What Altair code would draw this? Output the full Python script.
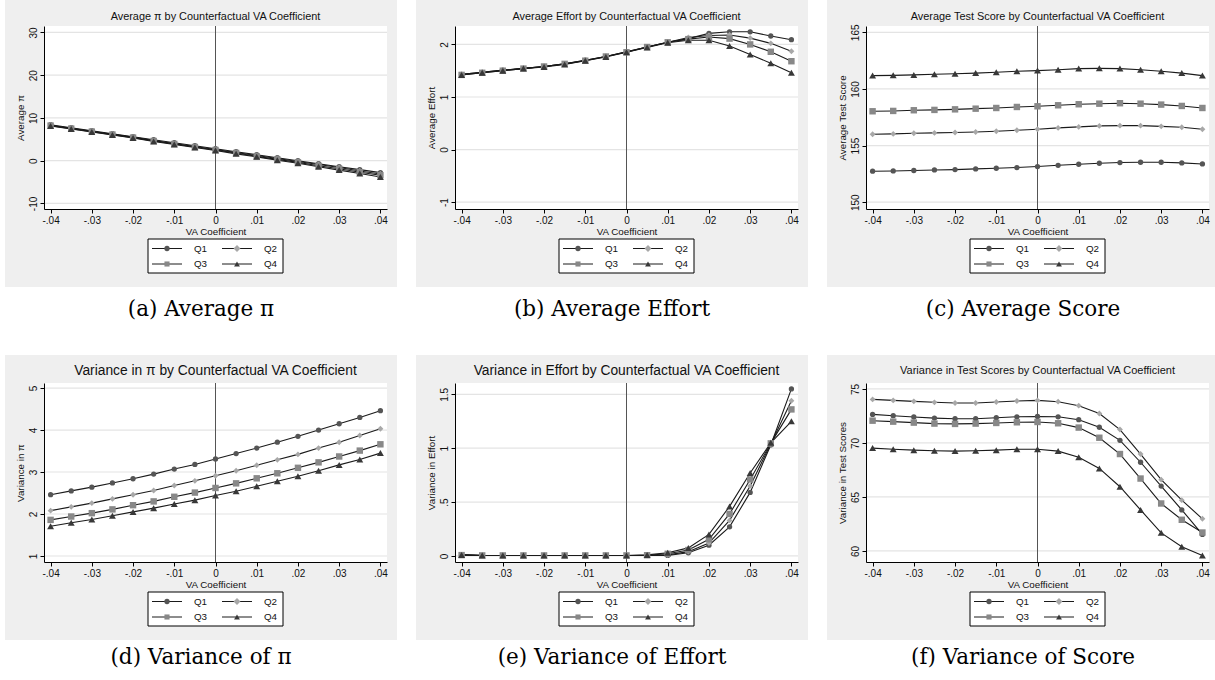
import altair as alt
import pandas as pd

# Counterfactual VA coefficients (x axis)
VA = [-0.04, -0.035, -0.03, -0.025, -0.02, -0.015, -0.01, -0.005, 0.0,
      0.005, 0.01, 0.015, 0.02, 0.025, 0.03, 0.035, 0.04]
X_TICKS = [-0.04, -0.03, -0.02, -0.01, 0.0, 0.01, 0.02, 0.03, 0.04]
QUARTILES = ["Q1", "Q2", "Q3", "Q4"]

# (a) Average pi
avg_pi_q1 = [8.4, 7.7, 7.0, 6.3, 5.6, 4.9, 4.2, 3.5, 2.8, 2.1, 1.4, 0.7, 0.0, -0.7, -1.4, -2.1, -2.8]
avg_pi_q2 = [8.3, 7.6, 6.9, 6.2, 5.5, 4.7, 4.0, 3.3, 2.6, 1.9, 1.2, 0.5, -0.2, -0.9, -1.6, -2.4, -3.1]
avg_pi_q3 = [8.2, 7.5, 6.8, 6.1, 5.4, 4.6, 3.9, 3.2, 2.5, 1.8, 1.0, 0.3, -0.4, -1.2, -1.9, -2.7, -3.4]
avg_pi_q4 = [8.1, 7.4, 6.7, 6.0, 5.3, 4.5, 3.8, 3.1, 2.4, 1.6, 0.9, 0.1, -0.6, -1.4, -2.2, -3.0, -3.8]

# (b) Average effort
avg_eff_q1 = [1.43, 1.47, 1.51, 1.545, 1.58, 1.63, 1.70, 1.77, 1.86, 1.95, 2.04, 2.11, 2.21, 2.24, 2.24, 2.16, 2.09]
avg_eff_q2 = [1.43, 1.47, 1.51, 1.545, 1.58, 1.63, 1.70, 1.77, 1.86, 1.95, 2.04, 2.13, 2.17, 2.18, 2.12, 2.02, 1.87]
avg_eff_q3 = [1.42, 1.46, 1.50, 1.54, 1.58, 1.63, 1.69, 1.77, 1.85, 1.95, 2.04, 2.10, 2.14, 2.11, 2.00, 1.86, 1.68]
avg_eff_q4 = [1.42, 1.46, 1.50, 1.54, 1.57, 1.62, 1.69, 1.76, 1.85, 1.94, 2.03, 2.08, 2.08, 1.97, 1.81, 1.64, 1.46]

# (c) Average test score
avg_score_q1 = [152.74, 152.76, 152.80, 152.85, 152.88, 152.94, 153.00, 153.06, 153.15, 153.26, 153.35, 153.44, 153.50, 153.53, 153.53, 153.47, 153.38]
avg_score_q2 = [156.00, 156.03, 156.09, 156.12, 156.15, 156.20, 156.26, 156.35, 156.44, 156.56, 156.65, 156.74, 156.76, 156.76, 156.70, 156.62, 156.44]
avg_score_q3 = [158.03, 158.06, 158.12, 158.15, 158.20, 158.26, 158.32, 158.41, 158.47, 158.56, 158.65, 158.70, 158.74, 158.70, 158.62, 158.50, 158.32]
avg_score_q4 = [161.18, 161.20, 161.24, 161.30, 161.35, 161.40, 161.47, 161.56, 161.62, 161.70, 161.80, 161.82, 161.80, 161.70, 161.56, 161.40, 161.18]

# (d) Variance in pi
var_pi_q1 = [2.46, 2.55, 2.64, 2.74, 2.84, 2.95, 3.07, 3.18, 3.31, 3.44, 3.57, 3.71, 3.85, 4.00, 4.15, 4.30, 4.46]
var_pi_q2 = [2.08, 2.17, 2.26, 2.36, 2.46, 2.56, 2.68, 2.79, 2.91, 3.03, 3.16, 3.29, 3.42, 3.57, 3.71, 3.87, 4.03]
var_pi_q3 = [1.86, 1.94, 2.02, 2.11, 2.21, 2.30, 2.41, 2.51, 2.62, 2.73, 2.85, 2.97, 3.10, 3.23, 3.37, 3.51, 3.66]
var_pi_q4 = [1.71, 1.79, 1.87, 1.96, 2.05, 2.14, 2.24, 2.33, 2.44, 2.54, 2.66, 2.78, 2.90, 3.03, 3.17, 3.30, 3.45]

# (e) Variance in effort
var_eff_q1 = [0.012, 0.006, 0.005, 0.005, 0.005, 0.005, 0.005, 0.005, 0.005, 0.005, 0.005, 0.030, 0.100, 0.270, 0.590, 1.030, 1.550]
var_eff_q2 = [0.008, 0.005, 0.005, 0.005, 0.005, 0.005, 0.005, 0.005, 0.005, 0.006, 0.010, 0.040, 0.120, 0.330, 0.650, 1.040, 1.440]
var_eff_q3 = [0.008, 0.005, 0.005, 0.005, 0.005, 0.005, 0.005, 0.005, 0.005, 0.007, 0.020, 0.055, 0.155, 0.390, 0.710, 1.045, 1.360]
var_eff_q4 = [0.008, 0.005, 0.005, 0.005, 0.005, 0.005, 0.005, 0.005, 0.005, 0.010, 0.030, 0.075, 0.200, 0.460, 0.770, 1.050, 1.250]

# (f) Variance in test scores
var_score_q1 = [72.64, 72.52, 72.40, 72.30, 72.24, 72.24, 72.33, 72.42, 72.45, 72.42, 72.15, 71.45, 70.24, 68.21, 66.00, 63.79, 61.52]
var_score_q2 = [74.03, 73.94, 73.85, 73.76, 73.70, 73.70, 73.79, 73.88, 73.94, 73.82, 73.45, 72.73, 71.24, 68.97, 66.60, 64.70, 62.97]
var_score_q3 = [72.06, 71.97, 71.88, 71.79, 71.76, 71.79, 71.85, 71.91, 71.94, 71.82, 71.42, 70.48, 68.97, 66.70, 64.39, 62.88, 61.70]
var_score_q4 = [69.52, 69.42, 69.33, 69.27, 69.24, 69.27, 69.33, 69.42, 69.42, 69.24, 68.67, 67.64, 65.94, 63.79, 61.67, 60.39, 59.58]

PANELS = [
    dict(title="Average \u03c0  by Counterfactual VA Coefficient", ytitle="Average \u03c0",
         caption="(a) Average \u03c0", series=[avg_pi_q1, avg_pi_q2, avg_pi_q3, avg_pi_q4],
         yticks=[-10, 0, 10, 20, 30], ydom=[-11.3, 31.5], row=0, col=0, tsize=10.9),
    dict(title="Average Effort by Counterfactual VA Coefficient", ytitle="Average Effort",
         caption="(b) Average Effort", series=[avg_eff_q1, avg_eff_q2, avg_eff_q3, avg_eff_q4],
         yticks=[-1, 0, 1, 2], ydom=[-1.13, 2.35], row=0, col=1, tsize=10.9),
    dict(title="Average Test Score by Counterfactual VA Coefficient", ytitle="Average Test Score",
         caption="(c) Average Score", series=[avg_score_q1, avg_score_q2, avg_score_q3, avg_score_q4],
         yticks=[150, 155, 160, 165], ydom=[149.4, 165.56], row=0, col=2, tsize=10.9),
    dict(title="Variance in \u03c0 by Counterfactual VA Coefficient", ytitle="Variance in \u03c0",
         caption="(d) Variance of \u03c0", series=[var_pi_q1, var_pi_q2, var_pi_q3, var_pi_q4],
         yticks=[1, 2, 3, 4, 5], ydom=[0.857, 5.12], row=1, col=0, tsize=13.8),
    dict(title="Variance in Effort by Counterfactual VA Coefficient", ytitle="Variance in Effort",
         caption="(e) Variance of Effort", series=[var_eff_q1, var_eff_q2, var_eff_q3, var_eff_q4],
         yticks=[0, 0.5, 1, 1.5], ydom=[-0.056, 1.605], row=1, col=1, tsize=13.8),
    dict(title="Variance in Test Scores by Counterfactual VA Coefficient", ytitle="Variance in Test Scores",
         caption="(f) Variance of Score", series=[var_score_q1, var_score_q2, var_score_q3, var_score_q4],
         yticks=[60, 65, 70, 75], ydom=[58.97, 75.55], row=1, col=2, tsize=11.0),
]

MARKER_SHAPES = ["circle", "diamond", "square", "triangle-up"]
MARKER_COLORS = ["#555555", "#a8a8a8", "#888888", "#383838"]
MARKER_SIZES = [28, 48, 26, 34]
LINE_COLOR = "#1a1a1a"
PANEL_BG = "#efefef"
SANS = "Liberation Sans"
SERIF = "DejaVu Serif"

TICK_LABEL = ("datum.value == 0 ? '0' : (datum.value < 0 ? '-' : '') + "
              "replace(toString(abs(datum.value)), regexp('^0'), '')")

one_row = pd.DataFrame({"k": [0]})


def make_panel(p):
    W = 343
    H = 183 if p["row"] == 0 else 179
    top = 26 if p["row"] == 0 else 28
    right = 6 if p["col"] == 2 else 10
    cell_bottom = 329 if p["row"] == 0 else 296
    title_y = -9 if p["row"] == 0 else -12

    rows = []
    for q, vals in zip(QUARTILES, p["series"]):
        for x, v in zip(VA, vals):
            rows.append({"va": x, "value": v, "q": q})
    df = pd.DataFrame(rows)

    xs = alt.Scale(domain=[-0.0416, 0.0416], nice=False, zero=False)
    ys = alt.Scale(domain=p["ydom"], nice=False, zero=False)

    common = dict(grid=False, domainColor="#000", tickColor="#000", tickSize=4, domainWidth=1,
                  tickWidth=1, labelFont=SANS, titleFont=SANS, labelFontSize=10,
                  titleFontSize=9.8, titleFontWeight="normal", labelColor="#111",
                  titleColor="#111", labelPadding=2, labelFlush=False, labelOverlap=False,
                  labelExpr=TICK_LABEL, zindex=1)
    xaxis = alt.Axis(values=X_TICKS, title="VA Coefficient", titlePadding=1, **common)
    yaxis = alt.Axis(values=p["yticks"], title=p["ytitle"], labelAngle=270,
                     labelAlign="center", labelBaseline="bottom", titlePadding=3, **common)

    X = alt.X("va:Q", scale=xs, axis=xaxis)
    Y = alt.Y("value:Q", scale=ys, axis=yaxis)

    base = alt.Chart(one_row)
    layers = [
        # white cell (sets the panel's footprint, caption area included)
        base.mark_rect(fill="white").encode(
            x=alt.value(-39), x2=alt.value(W + right), y=alt.value(-top), y2=alt.value(cell_bottom)),
        # grey graph region
        base.mark_rect(fill=PANEL_BG).encode(
            x=alt.value(-39), x2=alt.value(W + right), y=alt.value(-top), y2=alt.value(H + 78)),
        # white plot region
        base.mark_rect(fill="white").encode(
            x=alt.value(0), x2=alt.value(W), y=alt.value(0), y2=alt.value(H)),
        # horizontal grid lines at the y ticks
        alt.Chart(pd.DataFrame({"value": p["yticks"]})).mark_rule(color="#e4e4e4", strokeWidth=1.2).encode(y=Y),
        # reference line at zero
        alt.Chart(pd.DataFrame({"va": [0.0]})).mark_rule(color="#555", strokeWidth=1).encode(x=X),
        # series lines
        alt.Chart(df).mark_line(color=LINE_COLOR, strokeWidth=1.1).encode(x=X, y=Y, detail="q:N"),
        # series markers
        alt.Chart(df).mark_point(filled=True, opacity=1).encode(
            x=X, y=Y,
            shape=alt.Shape("q:N", scale=alt.Scale(domain=QUARTILES, range=MARKER_SHAPES), legend=None),
            color=alt.Color("q:N", scale=alt.Scale(domain=QUARTILES, range=MARKER_COLORS), legend=None),
            size=alt.Size("q:O", scale=alt.Scale(domain=QUARTILES, range=MARKER_SIZES), legend=None)),
        # title
        base.mark_text(text=p["title"], font=SANS, fontSize=p["tsize"], color="#111",
                       align="center", baseline="middle").encode(
            x=alt.value(W / 2), y=alt.value(title_y)),
        # caption below the graph
        base.mark_text(text=p["caption"], font=SERIF, fontSize=21.5, color="#000",
                       align="center", baseline="middle").encode(
            x=alt.value((W - 29) / 2), y=alt.value(H + (101 if p["row"] == 0 else 96))),
    ]

    # legend: boxed 2x2 key of line + marker
    bx = W / 2 - 67.5
    by = H + 30
    layers.append(base.mark_rect(fill="white", stroke="#000", strokeWidth=1).encode(
        x=alt.value(bx), x2=alt.value(bx + 135), y=alt.value(by), y2=alt.value(by + 34)))
    for i, q in enumerate(QUARTILES):
        c, r = i % 2, i // 2
        x0 = bx + (4 if c == 0 else 74)
        ly = by + (9.5 if r == 0 else 25)
        layers.append(base.mark_rule(color=LINE_COLOR, strokeWidth=1).encode(
            x=alt.value(x0), x2=alt.value(x0 + 30), y=alt.value(ly)))
        layers.append(base.mark_point(filled=True, opacity=1, shape=MARKER_SHAPES[i],
                                      color=MARKER_COLORS[i], size=MARKER_SIZES[i]).encode(
            x=alt.value(x0 + 15), y=alt.value(ly)))
        layers.append(base.mark_text(text=q, font=SANS, fontSize=9.8, color="#111",
                                     align="left", baseline="middle").encode(
            x=alt.value(x0 + 42), y=alt.value(ly)))

    return alt.layer(*layers).properties(width=W, height=H)


row1 = alt.hconcat(*[make_panel(p) for p in PANELS[:3]], spacing=19)
row2 = alt.hconcat(*[make_panel(p) for p in PANELS[3:]], spacing=19)

chart = alt.vconcat(row1, row2, spacing=0).properties(
    padding={"left": 5, "top": 0, "right": 0, "bottom": 0},
    background="white",
).configure_view(strokeWidth=0)

chart.save("out.html", embed_options={"renderer": "svg", "actions": False})
